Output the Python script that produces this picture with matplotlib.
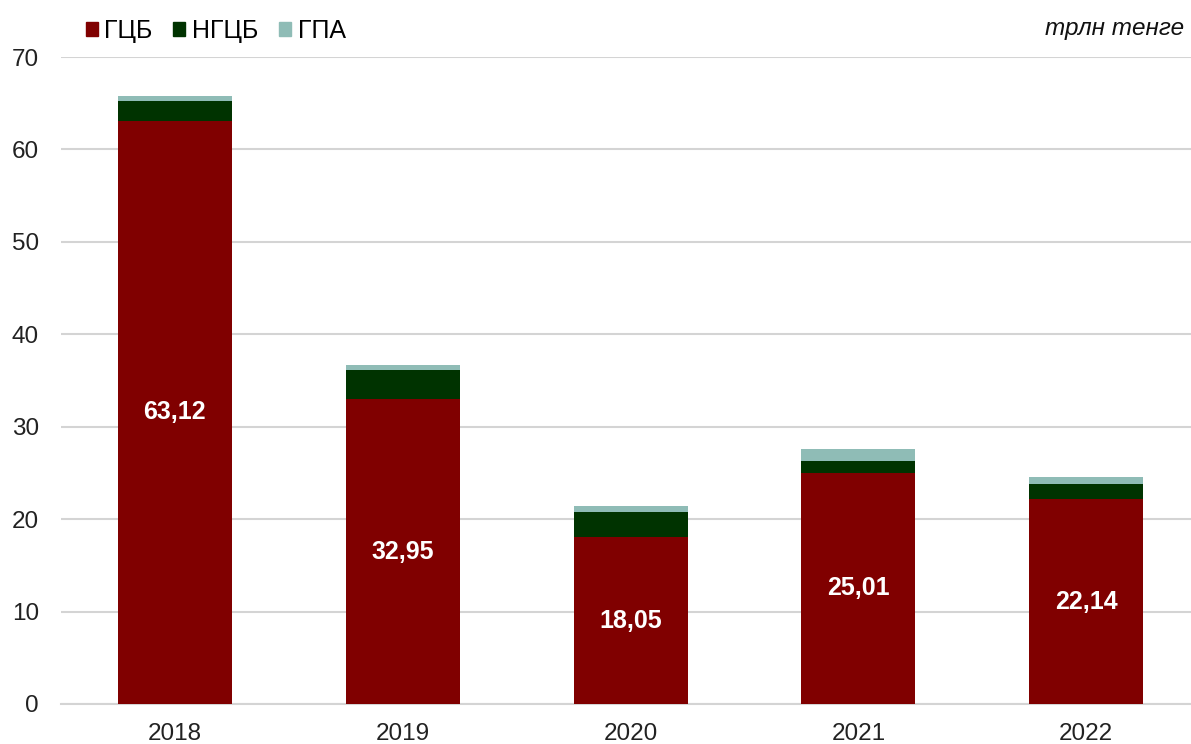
import numpy as np
import matplotlib.pyplot as plt
from matplotlib.patches import Patch

plt.rcParams['font.family'] = ['Liberation Sans', 'DejaVu Sans']

years = ['2018', '2019', '2020', '2021', '2022']
gcb = [63.12, 32.95, 18.05, 25.01, 22.14]    # ГЦБ
ngcb = [2.12, 3.19, 2.69, 1.28, 1.66]        # НГЦБ
gpa = [0.49, 0.54, 0.68, 1.30, 0.76]         # ГПА
labels = ['ГЦБ', 'НГЦБ', 'ГПА']
colors = ['#800000', '#003300', '#8fbcb6']

fig = plt.figure(figsize=(11.91, 7.44), dpi=100)
ax = fig.add_axes([61 / 1191, 40 / 744, 1 - 61 / 1191, 647 / 744])

x = np.arange(len(years))
w = 0.5
gcb_a = np.array(gcb)
ngcb_a = np.array(ngcb)
ax.bar(x, gcb, w, color=colors[0], zorder=3)
ax.bar(x, ngcb, w, bottom=gcb_a, color=colors[1], zorder=3)
ax.bar(x, gpa, w, bottom=gcb_a + ngcb_a, color=colors[2], zorder=3)

for xi, v in zip(x, gcb):
    ax.text(xi, v / 2, f'{v:.2f}'.replace('.', ','), ha='center', va='center',
            color='white', fontsize=18, fontweight='bold', zorder=4)

ax.set_ylim(0, 70)
ax.set_xlim(-0.5, 4.46)
ax.set_yticks(np.arange(0, 71, 10))
ax.set_xticks(x)
ax.set_xticklabels(years)
ax.tick_params(axis='both', length=0, labelsize=17.5, colors='#222222')
ax.tick_params(axis='y', pad=16)
ax.tick_params(axis='x', pad=14)
ax.yaxis.grid(True, color='#d4d4d4', linewidth=1.5, zorder=0)
for s in ['top', 'right', 'left']:
    ax.spines[s].set_visible(False)
ax.spines['bottom'].set_color('#d4d4d4')
ax.spines['bottom'].set_linewidth(1.5)

handles = [Patch(color=c) for c in colors]
fig.legend(handles, labels, loc='center left', bbox_to_anchor=(63 / 1191, 1 - 31 / 744),
           ncol=3, frameon=False, fontsize=18, handlelength=0.48, handleheight=0.48,
           handletextpad=0.25, columnspacing=0.85)

fig.text(1184 / 1191, 1 - 29 / 744, 'трлн тенге', ha='right', va='center',
         fontsize=17.5, style='italic', color='#111111')

fig.savefig('out.png', dpi=100)
